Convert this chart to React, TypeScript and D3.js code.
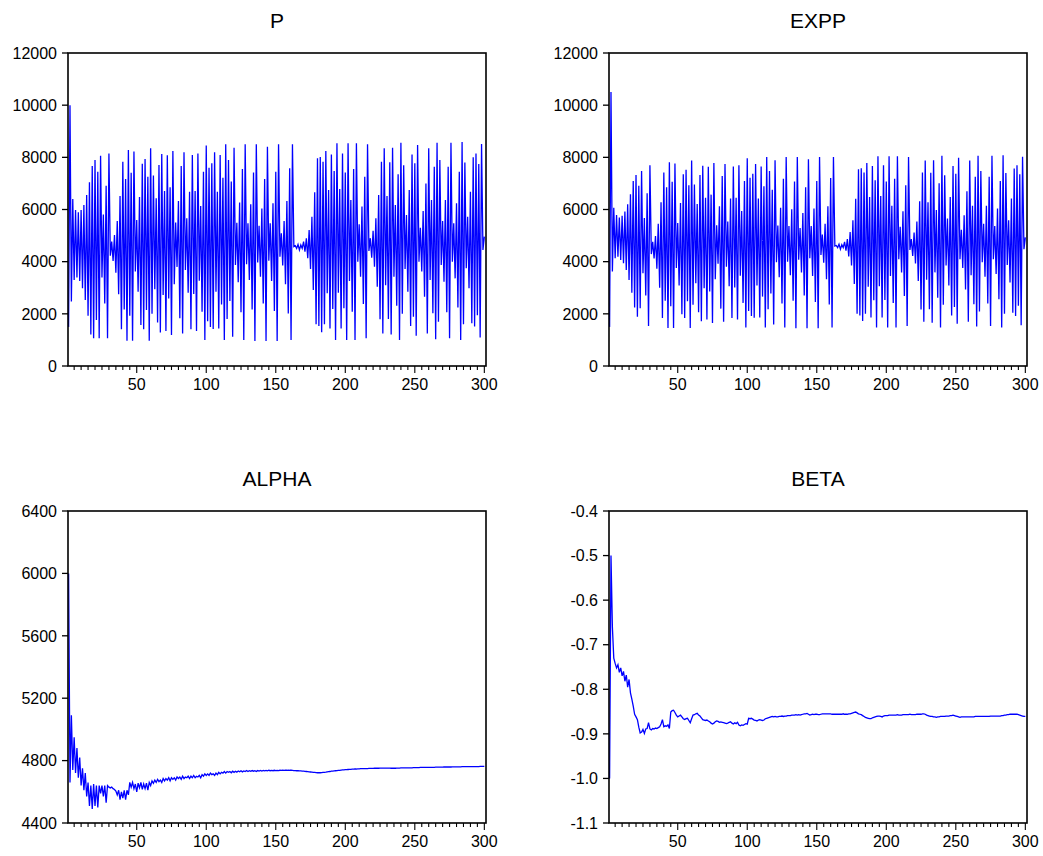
import React from 'react';
import * as d3 from 'd3';

const P_VALUES = [
  1500,10000,2470,6400,3300,5980,3390,5890,3260,5980,
  2980,6170,2530,6560,1930,7040,1210,7670,1060,7900,
  1760,7450,1060,8060,3390,5810,2400,6910,1060,8150,
  4230,4770,4030,5020,3580,5560,2750,6520,1410,7830,
  2170,7170,970,8280,1930,7410,970,8220,3620,5600,
  2850,6480,1570,7750,1410,7940,2150,7260,970,8350,
  2000,7300,2940,6430,1670,7710,1280,8130,2720,6710,
  1340,8080,2590,6850,1190,8240,3130,5500,3800,6330,
  1830,7670,1250,8190,3680,5660,2810,6680,1410,8090,
  2760,6710,1340,8150,3270,6130,2080,7450,1000,8450,
  1720,7600,1500,7770,1420,8190,2850,6680,1440,8090,
  2360,7220,1000,8500,1800,7900,2490,7070,1120,8370,
  3870,5490,3210,6270,2060,7550,1000,8500,3900,5470,
  3300,6200,2170,7420,960,8500,3970,5380,3420,6040,
  2400,7170,960,8410,4040,5470,3260,6240,2110,7450,
  960,8500,4190,5090,3850,5560,3130,6330,2010,7580,
  1000,8500,4580,4610,4510,4660,4450,4640,4510,4770,
  4380,4900,4130,5210,3720,5720,2910,6660,1600,7960,
  1530,8010,1290,7830,1600,8240,2790,6750,1440,8110,
  2190,7480,1000,8540,2810,6790,1440,8150,2210,7420,
  1000,8540,3260,6360,2080,7550,1000,8540,4000,5430,
  3420,6110,2380,7260,1060,8500,4410,4900,4150,5180,
  3810,5660,3040,6560,1790,7830,1250,8350,3100,6520,
  1800,7810,1210,8370,3420,6170,2310,7350,1000,8560,
  2000,7700,3720,5790,2850,6750,1530,8110,1890,7770,
  1160,8470,4000,5300,3620,5940,2660,7000,1250,8350,
  3300,6360,2020,7640,1030,8560,1700,7900,3870,5560,
  3230,6360,2060,7640,1060,8560,4000,5470,3360,6240,
  2240,7450,1000,8590,1600,7800,3750,5720,2980,6680,
  1640,8000,1510,8150,1950,7740,1090,8510,4450,4960,
];

const EXPP_VALUES = [
  1500,10500,3620,6070,4130,5790,4190,5690,4060,5760,
  3940,5920,3680,6200,3300,6580,2810,7090,2240,7320,
  1890,6910,2210,7480,3560,5670,2700,6620,1530,7700,
  4290,4760,4120,4980,3730,5450,3000,6280,1840,7420,
  2500,6850,1460,7810,2290,7060,1460,7760,3760,5480,
  3090,6250,1980,7350,1840,7520,2480,6930,1460,7880,
  2350,6960,3170,6210,2060,7320,1720,7680,2980,6450,
  1780,7640,2860,6570,1650,7780,3330,5400,3920,6120,
  2200,7280,1700,7740,3810,5540,3060,6420,1840,7650,
  3010,6450,1780,7700,3460,5940,2420,7090,1480,7960,
  2110,7220,1920,7370,1850,7740,3090,6420,1860,7650,
  2660,6890,1480,8010,2180,7480,2780,6760,1590,7890,
  3980,5390,3400,6070,2400,7180,1480,8010,4000,5370,
  3480,6010,2500,7070,1450,8010,4070,5290,3590,5870,
  2700,6850,1450,7930,4130,5370,3450,6040,2450,7090,
  1450,8010,4260,5040,3960,5450,3330,6120,2360,7210,
  1480,8010,4600,4620,4540,4670,4480,4650,4540,4760,
  4420,4870,4200,5140,3850,5590,3140,6410,2000,7540,
  1940,7580,1730,7420,2000,7780,3040,6480,1860,7670,
  2520,7120,1480,8040,3060,6520,1860,7700,2530,7070,
  1480,8040,3450,6140,2420,7180,1480,8040,4090,5340,
  3590,5930,2680,6930,1530,8010,4450,4870,4220,5120,
  3930,5540,3260,6320,2170,7420,1700,7880,3310,6280,
  2180,7410,1660,7890,3590,5980,2620,7010,1480,8060,
  2350,7310,3850,5650,3090,6480,1940,7670,2260,7370,
  1620,7980,4090,5220,3760,5780,2930,6700,1700,7880,
  3480,6140,2370,7260,1510,8060,2090,7480,3980,5450,
  3420,6140,2400,7260,1530,8060,4090,5370,3530,6040,
  2560,7090,1480,8080,2000,7400,3870,5590,3200,6420,
  2040,7570,1920,7700,2310,7350,1560,8020,4480,4930,
];

const ALPHA_VALUES = [
  6000,4660,5090,4740,4950,4720,4880,4690,4820,4640,
  4750,4610,4720,4570,4660,4510,4640,4490,4650,4510,
  4640,4500,4640,4590,4640,4570,4640,4530,4640,4630,
  4625,4630,4620,4615,4605,4580,4610,4550,4600,4560,
  4610,4550,4610,4580,4660,4630,4660,4620,4650,4600,
  4655,4625,4660,4615,4650,4620,4655,4610,4660,4640,
  4670,4655,4675,4660,4680,4665,4675,4660,4685,4670,
  4685,4675,4690,4670,4690,4680,4690,4675,4695,4685,
  4695,4680,4700,4685,4695,4690,4700,4685,4700,4690,
  4705,4690,4700,4695,4705,4690,4710,4700,4715,4705,
  4715,4705,4720,4710,4715,4705,4720,4710,4725,4715,
  4725,4720,4730,4720,4730,4725,4730,4722,4732,4725,
  4732,4726,4733,4728,4735,4728,4734,4730,4736,4730,
  4735,4731,4736,4732,4735,4730,4736,4733,4737,4733,
  4737,4734,4737,4734,4738,4735,4737,4735,4738,4736,
  4737,4736,4738,4737,4738,4737,4738,4738,4739,4738,
  4738,4737,4736,4736,4735,4735,4734,4734,4733,4732,
  4731,4730,4729,4728,4727,4726,4725,4724,4723,4722,
  4722,4722,4723,4724,4725,4726,4728,4729,4730,4732,
  4733,4734,4735,4736,4737,4738,4739,4740,4741,4742,
  4742,4743,4744,4744,4745,4745,4746,4746,4747,4747,
  4748,4748,4748,4749,4749,4749,4750,4750,4750,4750,
  4751,4751,4751,4751,4752,4752,4752,4752,4752,4752,
  4752,4752,4751,4751,4751,4751,4752,4752,4752,4753,
  4753,4753,4753,4754,4754,4754,4754,4754,4755,4755,
  4755,4755,4755,4756,4756,4756,4756,4756,4757,4757,
  4757,4757,4757,4757,4758,4758,4758,4758,4758,4758,
  4759,4759,4759,4759,4759,4759,4760,4760,4760,4760,
  4760,4760,4760,4761,4761,4761,4761,4761,4761,4761,
  4762,4762,4762,4762,4762,4762,4763,4763,4763,4763,
];

const BETA_VALUES = [
  -1.000,-0.500,-0.660,-0.730,-0.742,-0.752,-0.745,-0.762,-0.752,-0.770,
  -0.760,-0.782,-0.768,-0.795,-0.778,-0.808,-0.822,-0.838,-0.856,-0.862,
  -0.868,-0.885,-0.898,-0.896,-0.890,-0.899,-0.889,-0.888,-0.875,-0.889,
  -0.891,-0.888,-0.889,-0.887,-0.888,-0.886,-0.884,-0.878,-0.868,-0.884,
  -0.882,-0.883,-0.880,-0.888,-0.851,-0.848,-0.847,-0.852,-0.858,-0.862,
  -0.860,-0.858,-0.862,-0.866,-0.868,-0.866,-0.865,-0.870,-0.875,-0.866,
  -0.858,-0.857,-0.855,-0.854,-0.858,-0.860,-0.864,-0.868,-0.869,-0.870,
  -0.869,-0.871,-0.873,-0.876,-0.878,-0.876,-0.873,-0.871,-0.872,-0.874,
  -0.873,-0.874,-0.875,-0.876,-0.877,-0.876,-0.874,-0.873,-0.876,-0.878,
  -0.875,-0.877,-0.874,-0.880,-0.882,-0.880,-0.881,-0.879,-0.877,-0.878,
  -0.865,-0.866,-0.865,-0.867,-0.869,-0.870,-0.871,-0.869,-0.868,-0.869,
  -0.870,-0.869,-0.866,-0.865,-0.864,-0.863,-0.862,-0.861,-0.862,-0.861,
  -0.862,-0.862,-0.861,-0.861,-0.860,-0.861,-0.860,-0.860,-0.859,-0.859,
  -0.859,-0.858,-0.858,-0.858,-0.857,-0.858,-0.857,-0.858,-0.857,-0.856,
  -0.855,-0.855,-0.854,-0.856,-0.858,-0.857,-0.856,-0.857,-0.856,-0.856,
  -0.857,-0.857,-0.856,-0.855,-0.855,-0.855,-0.855,-0.855,-0.855,-0.855,
  -0.856,-0.856,-0.856,-0.856,-0.856,-0.856,-0.856,-0.856,-0.855,-0.856,
  -0.856,-0.856,-0.855,-0.855,-0.854,-0.853,-0.852,-0.851,-0.853,-0.855,
  -0.856,-0.857,-0.859,-0.861,-0.863,-0.864,-0.865,-0.866,-0.866,-0.864,
  -0.863,-0.862,-0.861,-0.860,-0.860,-0.861,-0.862,-0.860,-0.859,-0.859,
  -0.859,-0.858,-0.858,-0.858,-0.858,-0.858,-0.858,-0.857,-0.858,-0.858,
  -0.858,-0.857,-0.857,-0.857,-0.857,-0.857,-0.856,-0.857,-0.857,-0.857,
  -0.857,-0.856,-0.856,-0.856,-0.856,-0.855,-0.855,-0.856,-0.858,-0.859,
  -0.860,-0.861,-0.861,-0.862,-0.862,-0.863,-0.862,-0.862,-0.861,-0.861,
  -0.861,-0.861,-0.860,-0.860,-0.860,-0.859,-0.859,-0.858,-0.859,-0.860,
  -0.861,-0.862,-0.863,-0.862,-0.862,-0.862,-0.862,-0.862,-0.862,-0.862,
  -0.862,-0.862,-0.862,-0.861,-0.861,-0.861,-0.861,-0.861,-0.861,-0.861,
  -0.861,-0.861,-0.861,-0.861,-0.860,-0.860,-0.860,-0.860,-0.860,-0.860,
  -0.860,-0.860,-0.859,-0.859,-0.858,-0.858,-0.857,-0.857,-0.856,-0.856,
  -0.856,-0.856,-0.856,-0.856,-0.857,-0.858,-0.859,-0.860,-0.861,-0.861,
];

const X_TICKS = [50, 100, 150, 200, 250, 300];
const P_TICKS = [0, 2000, 4000, 6000, 8000, 10000, 12000];
const ALPHA_TICKS = [4400, 4800, 5200, 5600, 6000, 6400];
const BETA_TICKS = [-1.1, -1.0, -0.9, -0.8, -0.7, -0.6, -0.5, -0.4];

const FONT = '"Liberation Sans", Arial, Helvetica, sans-serif';

type PanelProps = {
  title: string;
  data: number[];
  x0: number; x1: number; y0: number; y1: number;
  yDomain: [number, number];
  yTicks: number[];
  fmt: (v: number) => string;
};

function Panel({ title, data, x0, x1, y0, y1, yDomain, yTicks, fmt }: PanelProps) {
  const x = d3.scaleLinear().domain([0.57, 301.2]).range([x0, x1]);
  const y = d3.scaleLinear().domain(yDomain).range([y1, y0]);
  const line = d3.line<number>().x((_, i) => x(i + 1)).y((d) => y(d));
  const minor = d3.range(5, 301, 5);
  return (
    <g>
      <text x={(x0 + x1) / 2} y={y0 - 25} textAnchor="middle" fontSize={21} fontFamily={FONT} fill="#000">{title}</text>
      <path d={line(data) || ''} fill="none" stroke="#0000ff" strokeWidth={1.3} strokeLinejoin="miter" />
      <rect x={x0} y={y0} width={x1 - x0} height={y1 - y0} fill="none" stroke="#000" strokeWidth={1.6} />
      {yTicks.map((v) => (
        <g key={v}>
          <line x1={x0 - 6} x2={x0} y1={y(v)} y2={y(v)} stroke="#000" strokeWidth={1.3} />
          <text x={x0 - 11} y={y(v)} dy="0.36em" textAnchor="end" fontSize={16} fontFamily={FONT} fill="#000">{fmt(v)}</text>
        </g>
      ))}
      {minor.map((t) => (
        <line key={t} x1={x(t)} x2={x(t)} y1={y1} y2={y1 + (t % 50 === 0 ? 7 : 4)} stroke="#000" strokeWidth={1.1} />
      ))}
      {X_TICKS.map((t) => (
        <text key={t} x={x(t)} y={y1 + 24} textAnchor="middle" fontSize={16} fontFamily={FONT} fill="#000">{t}</text>
      ))}
    </g>
  );
}

export default function App() {
  const fInt = (v: number) => String(v);
  const fDec = (v: number) => v.toFixed(1);
  return (
    <svg width={1043} height={856} style={{ position: 'absolute', left: 0, top: 0, background: '#fff' }}>
      <rect x={0} y={0} width={1043} height={856} fill="#fff" />
      <Panel title="P" data={P_VALUES} x0={68} x1={486} y0={53} y1={366} yDomain={[0, 12000]} yTicks={P_TICKS} fmt={fInt} />
      <Panel title="EXPP" data={EXPP_VALUES} x0={609} x1={1027} y0={53} y1={366} yDomain={[0, 12000]} yTicks={P_TICKS} fmt={fInt} />
      <Panel title="ALPHA" data={ALPHA_VALUES} x0={68} x1={486} y0={511} y1={823} yDomain={[4400, 6400]} yTicks={ALPHA_TICKS} fmt={fInt} />
      <Panel title="BETA" data={BETA_VALUES} x0={609} x1={1027} y0={511} y1={823} yDomain={[-1.1, -0.4]} yTicks={BETA_TICKS} fmt={fDec} />
    </svg>
  );
}
